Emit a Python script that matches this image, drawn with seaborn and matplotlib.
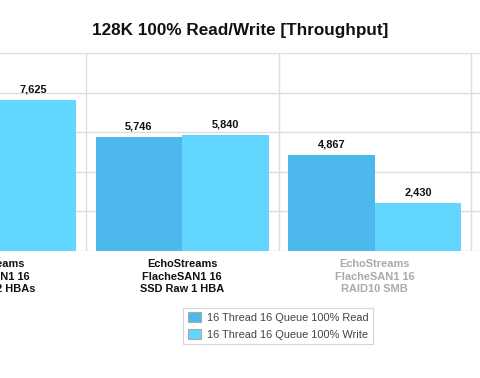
import matplotlib
matplotlib.use("Agg")
import matplotlib.pyplot as plt
from matplotlib.patches import Patch
import seaborn as sns
import pandas as pd

# ---- data ----
categories = [
    "EchoStreams\nFlacheSAN1 16\nSSD Raw 2 HBAs",
    "EchoStreams\nFlacheSAN1 16\nSSD Raw 1 HBA",
    "EchoStreams\nFlacheSAN1 16\nRAID10 SMB",
]
series_names = ["16 Thread 16 Queue 100% Read", "16 Thread 16 Queue 100% Write"]
read_values = [7450, 5746, 4867]   # first read bar lies outside the visible crop (estimate)
write_values = [7625, 5840, 2430]
series_colors = ["#4db8ec", "#62d6ff"]
label_colors = ["#111111", "#111111", "#aaaaaa"]
y_ticks = [0, 2000, 4000, 6000, 8000, 10000]

df = pd.DataFrame({
    "category": categories * 2,
    "series": [series_names[0]] * 3 + [series_names[1]] * 3,
    "value": read_values + write_values,
})

sns.set_theme(style="white")
plt.rcParams["font.family"] = ["Liberation Sans", "DejaVu Sans"]

W, H = 480, 378
fig = plt.figure(figsize=(W / 100, H / 100), dpi=100)
ax = fig.add_axes([0, (H - 251) / H, 1, (251 - 53) / H])

sns.barplot(data=df, x="category", y="value", hue="series",
            palette=series_colors, width=0.9, saturation=1,
            order=categories, hue_order=series_names, ax=ax, legend=False,
            linewidth=0, edgecolor="none")

# category labels drawn as annotations so the partly visible first one is kept
ax.set_xticks(range(len(categories)))
ax.set_xticklabels([])
ax.tick_params(axis="x", length=0)
for i, (cat, c) in enumerate(zip(categories, label_colors)):
    ax.annotate(cat, xy=(i, 0), xycoords=("data", "axes fraction"),
                xytext=(0, -5.6), textcoords="offset points",
                ha="center", va="top", fontsize=7.9, fontweight="bold",
                color=c, linespacing=1.35, annotation_clip=False)

ax.set_yticks(y_ticks)
ax.set_yticklabels([])
ax.tick_params(axis="y", length=0)
ax.set_xlim(0.5 - 86 / 192.5, 0.5 + (W - 86) / 192.5)
ax.set_ylim(0, 10000)
ax.set_axisbelow(True)
ax.grid(axis="y", color="#dddddd", linewidth=1)
for xb in [0.5, 1.5, 2.5]:
    ax.axvline(xb, color="#dddddd", linewidth=1, zorder=0)
for s in ax.spines.values():
    s.set_visible(False)
ax.set_xlabel("")
ax.set_ylabel("")

for cont in ax.containers:
    ax.bar_label(cont, labels=[f"{v:,.0f}" for v in cont.datavalues],
                 padding=4, fontsize=7.9, fontweight="bold", color="#111111")

fig.text(0.5, 1 - 30 / H, "128K 100% Read/Write [Throughput]",
         ha="center", va="center", fontsize=12.3, fontweight="bold", color="#111111")

handles = [Patch(facecolor=c, edgecolor="#aaaaaa", linewidth=0.8) for c in series_colors]
leg = fig.legend(handles, series_names, loc="center",
                 bbox_to_anchor=(278 / W, 1 - 326 / H), fontsize=7.9,
                 frameon=True, fancybox=False, edgecolor="#cccccc",
                 handlelength=1.2, handleheight=1.0, handletextpad=0.55,
                 labelspacing=0.55, borderpad=0.4)
leg.get_frame().set_linewidth(0.8)
for t in leg.get_texts():
    t.set_color("#444444")

fig.savefig("out.png", dpi=100)
